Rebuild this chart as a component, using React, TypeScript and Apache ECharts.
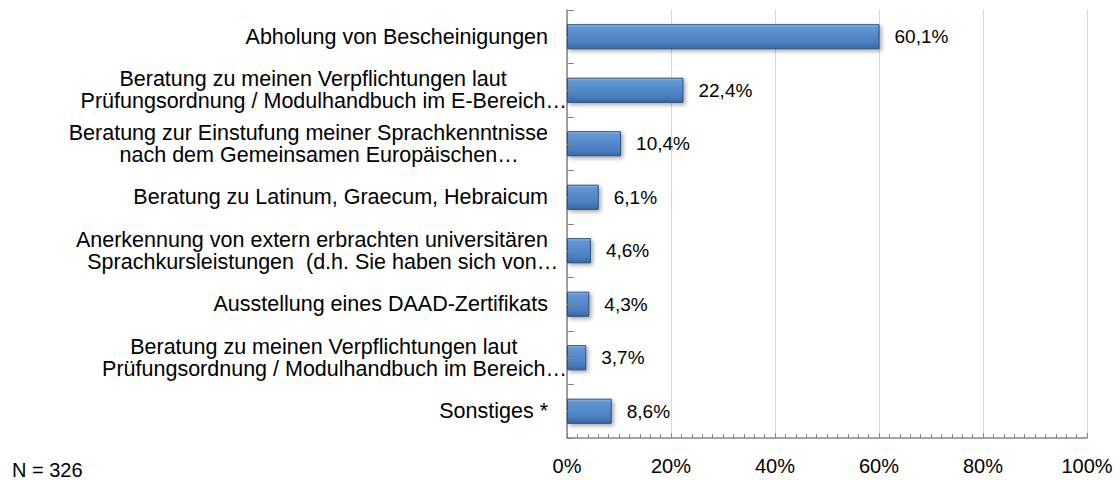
import React, { useEffect, useRef } from "react";
import * as echarts from "echarts";

const categories: string[] = [
  "Abholung von Bescheinigungen",
  "Beratung zu meinen Verpflichtungen laut\nPrüfungsordnung / Modulhandbuch im E-Bereich…",
  "Beratung zur Einstufung meiner Sprachkenntnisse\nnach dem Gemeinsamen Europäischen…",
  "Beratung zu Latinum, Graecum, Hebraicum",
  "Anerkennung von extern erbrachten universitären\nSprachkursleistungen  (d.h. Sie haben sich von…",
  "Ausstellung eines DAAD-Zertifikats",
  "Beratung zu meinen Verpflichtungen laut\nPrüfungsordnung / Modulhandbuch im Bereich…",
  "Sonstiges *",
];
const values: number[] = [60.1, 22.4, 10.4, 6.1, 4.6, 4.3, 3.7, 8.6];
const xTicks = { min: 0, max: 100, interval: 20 };
const footnote = "N = 326";

const FONT = '"Liberation Sans", Arial, sans-serif';
const CAT_SIZE = 21.5;
const CAT_GAP = 19;

function buildRich() {
  const canvas = document.createElement("canvas");
  const ctx = canvas.getContext("2d")!;
  ctx.font = `${CAT_SIZE}px "Liberation Sans"`;
  const rich: Record<string, any> = {};
  const formatted: string[] = [];
  categories.forEach((cat, i) => {
    const lines = cat.split("\n");
    const core = lines.map((l) => l.replace(/…$/, ""));
    const coreW = core.map((l) => ctx.measureText(l).width);
    const fullW = lines.map((l) => ctx.measureText(l).width);
    const W = Math.max(...coreW);
    const parts = lines.map((l, j) => {
      const key = `t${i}_${j}`;
      const L = (W - coreW[j]) / 2;
      const R = Math.max(0, W + CAT_GAP - L - fullW[j]);
      rich[key] = {
        color: "#000",
        fontFamily: FONT,
        fontSize: CAT_SIZE,
        lineHeight: 22,
        align: "left",
        padding: [0, R, 0, L],
      };
      return `{${key}|${l}}`;
    });
    formatted.push(parts.join("\n"));
  });
  return { rich, formatted };
}

export default function App() {
  const ref = useRef<HTMLDivElement>(null);
  useEffect(() => {
    if (!ref.current) return;
    const chart = echarts.init(ref.current, null, { renderer: "svg" });
    const axisGray = "#868686";
    const { rich, formatted } = buildRich();
    chart.setOption({
      animation: false,
      backgroundColor: "#ffffff",
      grid: { left: 567, right: 33, top: 10, bottom: 42, containLabel: false },
      xAxis: {
        type: "value",
        min: xTicks.min,
        max: xTicks.max,
        interval: xTicks.interval,
        axisLine: { show: true, lineStyle: { color: axisGray, width: 1.5 } },
        axisTick: { show: true, inside: true, length: 5, lineStyle: { color: axisGray } },
        minorTick: { show: true, splitNumber: 10, length: 4, lineStyle: { color: axisGray } },
        splitLine: { show: true, lineStyle: { color: "#D9D9D9", width: 1 } },
        axisLabel: {
          formatter: "{value}%",
          color: "#000",
          fontFamily: FONT,
          fontSize: 20,
          margin: 18,
        },
      },
      yAxis: [
        {
          type: "category",
          data: categories,
          inverse: true,
          axisLine: { show: true, lineStyle: { color: axisGray, width: 1.5 } },
          axisTick: { show: true, inside: true, length: 7, lineStyle: { color: axisGray } },
          splitLine: { show: false },
          axisLabel: {
            color: "#000",
            fontFamily: FONT,
            fontSize: CAT_SIZE,
            lineHeight: 22,
            margin: 0,
            align: "right",
            formatter: (_v: string, idx: number) => formatted[idx],
            rich,
          },
        },
        {
          type: "category",
          data: categories,
          inverse: true,
          position: "left",
          z: 10,
          axisLine: { show: false },
          axisLabel: { show: false },
          axisTick: {
            show: true,
            inside: true,
            alignWithLabel: true,
            length: 7,
            lineStyle: { color: axisGray },
          },
          splitLine: { show: false },
        },
      ],
      series: [
        {
          type: "bar",
          yAxisIndex: 0,
          data: values,
          barWidth: "47%",
          itemStyle: {
            color: new echarts.graphic.LinearGradient(0, 0, 0, 1, [
              { offset: 0, color: "#A4C4EC" },
              { offset: 0.1, color: "#6396D4" },
              { offset: 0.75, color: "#4A7EC0" },
              { offset: 1, color: "#3A67A3" },
            ]),
            borderColor: "#2C4F7E",
            borderWidth: 1,
            shadowColor: "rgba(0,0,0,0.35)",
            shadowBlur: 4,
            shadowOffsetX: 2,
            shadowOffsetY: 2,
          },
          label: {
            show: true,
            position: "right",
            distance: 15,
            color: "#000",
            fontFamily: FONT,
            fontSize: 19,
            formatter: (p: any) => `${p.value.toFixed(1).replace(".", ",")}%`,
          },
        },
      ],
      graphic: [
        {
          type: "text",
          left: 12,
          top: 460,
          style: {
            text: footnote,
            fill: "#000",
            font: `20px ${FONT}`,
          },
        },
      ],
    });
    return () => chart.dispose();
  }, []);
  return (
    <div
      ref={ref}
      style={{ position: "fixed", left: 0, top: 0, width: 1120, height: 480 }}
    />
  );
}
